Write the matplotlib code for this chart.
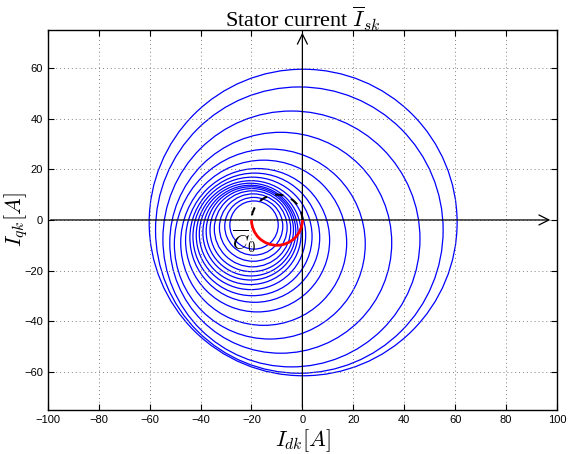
import numpy as np
import matplotlib
matplotlib.use("Agg")
import matplotlib.pyplot as plt
from matplotlib.patches import Circle, Arc

plt.rcParams["mathtext.fontset"] = "cm"
plt.rcParams["font.family"] = ["Liberation Sans", "DejaVu Sans"]

# transient loops of the stator current (centre x, centre y, radius) in A
loop_cx = [0.3, -1.2, -4.3, -8.5, -12.8, -15.2, -17.6, -18.7, -19.6, -20.2,
           -20.5, -20.4, -20.2, -19.9, -19.6, -19.3, -19.1, -19.0]
loop_cy = [-1.0, -4.0, -7.5, -9.0, -9.5, -9.0, -8.0, -7.0, -6.5, -6.0,
           -5.5, -5.0, -4.5, -4.0, -3.5, -3.0, -2.5, -2.0]
loop_r = [60.5, 56.5, 50.5, 43.6, 37.5, 32.6, 28.3, 25.5, 23.4, 21.5,
          20.0, 18.7, 17.6, 16.4, 15.0, 13.3, 11.4, 9.5]

# steady-state circle C0
c0_center = (-10.0, 0.0)
c0_radius = 10.0

xticks = [-100, -80, -60, -40, -20, 0, 20, 40, 60, 80, 100]
yticks = [-60, -40, -20, 0, 20, 40, 60]

fig = plt.figure(figsize=(5.7, 4.54), dpi=100)
ax = fig.add_axes([0.084, 0.097, 0.893, 0.837])

for cx, cy, r in zip(loop_cx, loop_cy, loop_r):
    ax.add_patch(Circle((cx, cy), r, fill=False, ec="blue", lw=0.9))

ax.add_patch(Arc(c0_center, 2 * c0_radius, 2 * c0_radius, theta1=180, theta2=360,
                 color="red", lw=2.0, zorder=4))
ax.add_patch(Arc(c0_center, 2 * c0_radius, 2 * c0_radius, theta1=0, theta2=180,
                 color="black", lw=1.5, ls=(0, (4, 4)), zorder=4))

# coordinate axes with arrows
ax.annotate("", xy=(98.5, 0), xytext=(-100, 0),
            arrowprops=dict(arrowstyle="->", color="black", lw=0.9, mutation_scale=18))
ax.annotate("", xy=(0, 75), xytext=(0, -75),
            arrowprops=dict(arrowstyle="->", color="black", lw=0.9, mutation_scale=18))

ax.text(-23, -8.5, r"$\overline{C}_0$", fontsize=15, ha="center", va="center", zorder=5)

ax.set_xlim(-100, 100)
ax.set_ylim(-75, 75)
ax.set_xticks(xticks)
ax.set_yticks(yticks)
ax.tick_params(direction="in", top=True, right=True, labelsize=8, length=4)
ax.grid(True, ls=(0, (1, 3)), color="gray", lw=0.7)
for s in ax.spines.values():
    s.set_linewidth(1.0)

ax.set_title(r"Stator current $\overline{I}_{sk}$", fontsize=16,
             family=["Liberation Serif"], pad=2)
ax.set_xlabel(r"$I_{dk}[A]$", fontsize=16)
ax.set_ylabel(r"$I_{qk}[A]$", fontsize=16)
ax.xaxis.set_label_coords(0.5, -0.045)
ax.yaxis.set_label_coords(-0.035, 0.5)

fig.savefig("out.png", dpi=100)
